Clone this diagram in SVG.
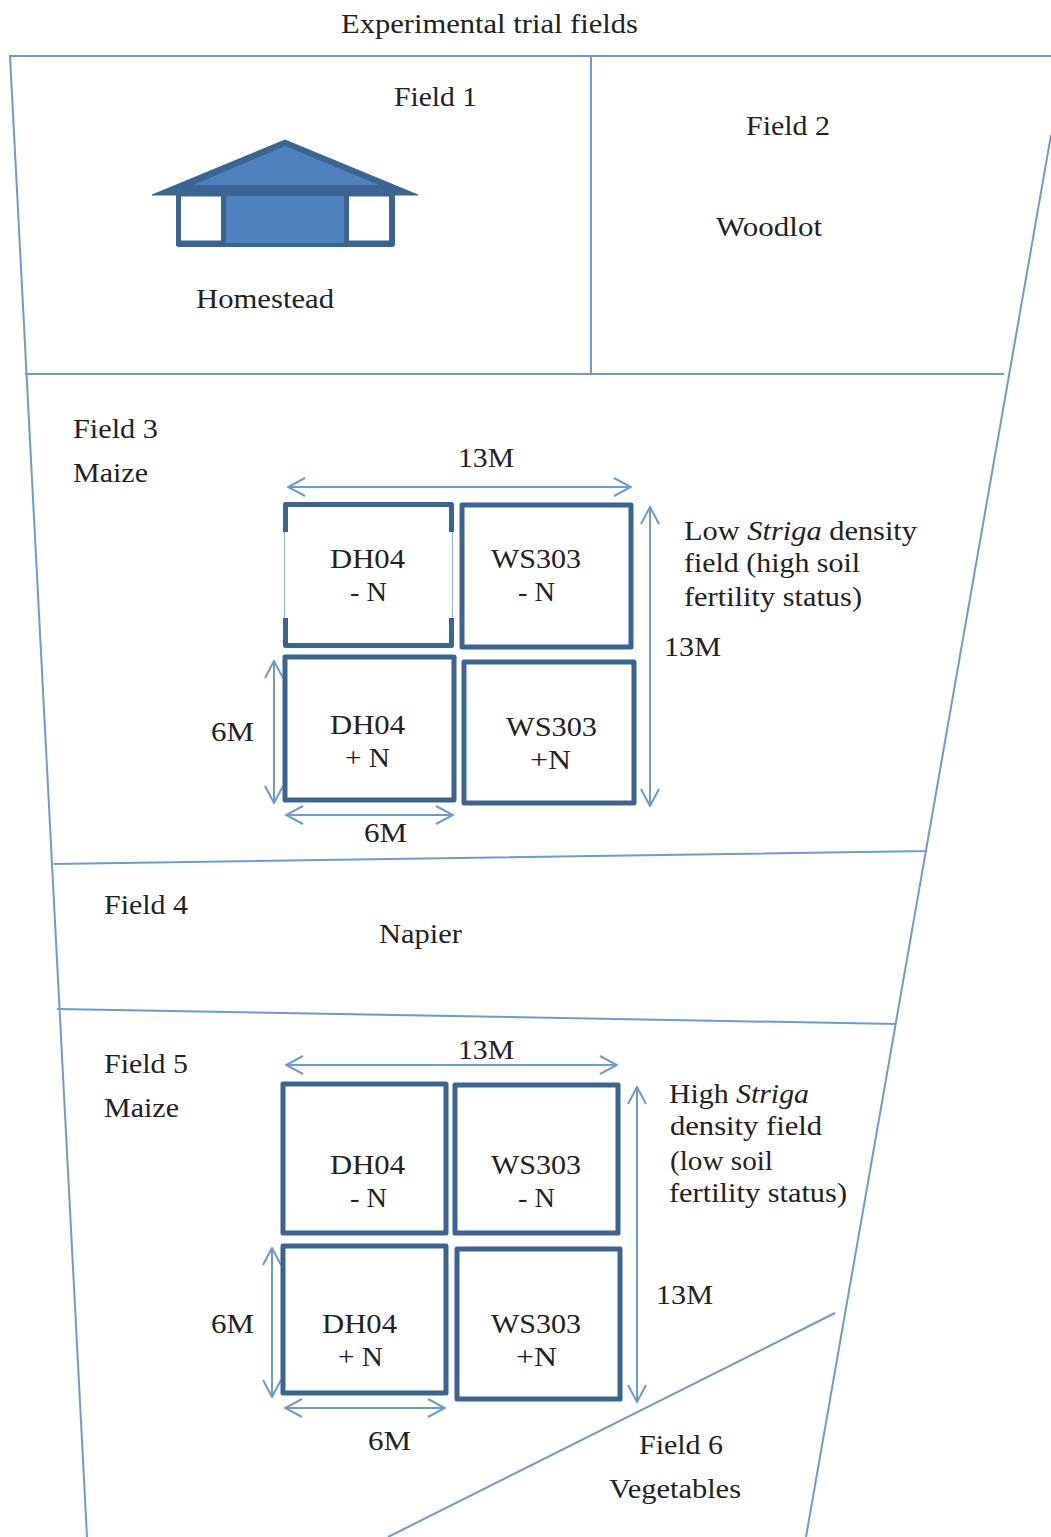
<svg xmlns="http://www.w3.org/2000/svg" width="1051" height="1537" viewBox="0 0 1051 1537">
<style>
text{font-family:"Liberation Serif","Times New Roman",serif;font-size:27px;fill:#222;transform:translateY(1px)}
.f{stroke:#6c9bd2;stroke-width:2;fill:none}
.d{stroke:#6c9bd2;stroke-width:2;fill:none;marker-start:url(#a);marker-end:url(#a)}
.b{fill:#fff;stroke:#3a6493;stroke-width:5;stroke-linejoin:round}
.w{fill:#fff;stroke:#3a6493;stroke-width:5}
</style>
<defs>
<marker id="a" viewBox="0 0 20 20" refX="19" refY="10" markerWidth="20" markerHeight="20" markerUnits="userSpaceOnUse" orient="auto-start-reverse"><path d="M2 1 L19 10 L2 19" fill="none" stroke="#6c9bd2" stroke-width="2"/></marker>
</defs>
<rect width="1051" height="1537" fill="#fff"/>
<g id="connectors">
<path class="f" d="M87 1537L10 56H1051M1051 135L806 1537M591 56V374M25 374H1004M54 864L927 851M57 1009L896 1024M835 1313L388 1537"/>
<path class="d" d="M288 487H631"/>
<path class="d" d="M650 507V806"/>
<path class="d" d="M274 661V803"/>
<path class="d" d="M286 815H453"/>
<path class="d" d="M286 1065H617"/>
<path class="d" d="M637 1087V1402"/>
<path class="d" d="M272 1248V1397"/>
<path class="d" d="M285 1408H445"/>
</g>
<g id="title"><text x="341" y="32" textLength="297" lengthAdjust="spacingAndGlyphs">Experimental trial fields</text></g>
<g id="field1"><text x="394" y="105" textLength="83" lengthAdjust="spacingAndGlyphs">Field 1</text><text x="196" y="307" textLength="138" lengthAdjust="spacingAndGlyphs">Homestead</text>
<g id="house">
<path d="M152 195L285 140L418 195Z" fill="#3a6493" stroke="#3a6493" stroke-width="1" stroke-linejoin="round"/>
<path d="M193 185L285 146L379 185Z" fill="#4f81bd"/>
<rect x="178" y="190" width="215" height="54" fill="#4f81bd"/>
<rect x="178" y="192" width="215" height="4" fill="#3a6493"/>
<rect x="178" y="192" width="215" height="53" rx="1" fill="none" stroke="#3a6493" stroke-width="4"/>
<rect class="w" x="178.500" y="194" width="45" height="49"/>
<rect class="w" x="346.500" y="194" width="45" height="49"/>
</g></g>
<g id="field2"><text x="746" y="134" textLength="84" lengthAdjust="spacingAndGlyphs">Field 2</text><text x="716" y="235" textLength="106" lengthAdjust="spacingAndGlyphs">Woodlot</text></g>
<g id="field3"><text x="73" y="437" textLength="85" lengthAdjust="spacingAndGlyphs">Field 3</text><text x="73" y="481" textLength="75" lengthAdjust="spacingAndGlyphs">Maize</text>
<text x="458" y="466" textLength="56" lengthAdjust="spacingAndGlyphs">13M</text>
<text x="664" y="655" textLength="57" lengthAdjust="spacingAndGlyphs">13M</text>
<text x="211" y="740" textLength="43" lengthAdjust="spacingAndGlyphs">6M</text>
<text x="364" y="841" textLength="43" lengthAdjust="spacingAndGlyphs">6M</text>
<text x="684" y="539" textLength="233" lengthAdjust="spacingAndGlyphs">Low <tspan font-style="italic">Striga</tspan> density</text>
<text x="684" y="571" textLength="176" lengthAdjust="spacingAndGlyphs">field (high soil</text>
<text x="684" y="605" textLength="178" lengthAdjust="spacingAndGlyphs">fertility status)</text></g>
<g id="plot-dh04-n-low"><rect class="b" x="285.500" y="504.500" width="166" height="141"/>
<rect x="282" y="532" width="7" height="86" fill="#fff"/><rect x="448" y="532" width="7" height="86" fill="#fff"/>
<path d="M284.500 532V618M452.500 532V618" stroke="#8fb2da" stroke-width="1" fill="none"/>
<text x="330" y="567" textLength="75" lengthAdjust="spacingAndGlyphs">DH04</text><text x="350" y="600" textLength="37" lengthAdjust="spacingAndGlyphs">- N</text></g>
<g id="plot-ws303-n-low"><rect class="b" x="462" y="505" width="169" height="142"/><text x="491" y="567" textLength="90" lengthAdjust="spacingAndGlyphs">WS303</text><text x="518" y="600" textLength="37" lengthAdjust="spacingAndGlyphs">- N</text></g>
<g id="plot-dh04-p-low"><rect class="b" x="285" y="657" width="169" height="143"/><text x="330" y="733" textLength="75" lengthAdjust="spacingAndGlyphs">DH04</text><text x="345" y="766" textLength="45" lengthAdjust="spacingAndGlyphs">+ N</text></g>
<g id="plot-ws303-p-low"><rect class="b" x="464" y="662" width="170" height="141"/><text x="506" y="735" textLength="91" lengthAdjust="spacingAndGlyphs">WS303</text><text x="530" y="768" textLength="41" lengthAdjust="spacingAndGlyphs">+N</text></g>
<g id="field4"><text x="104" y="913" textLength="84" lengthAdjust="spacingAndGlyphs">Field 4</text><text x="379" y="942" textLength="83" lengthAdjust="spacingAndGlyphs">Napier</text></g>
<g id="field5"><text x="104" y="1072" textLength="84" lengthAdjust="spacingAndGlyphs">Field 5</text><text x="104" y="1116" textLength="75" lengthAdjust="spacingAndGlyphs">Maize</text>
<text x="458" y="1058" textLength="56" lengthAdjust="spacingAndGlyphs">13M</text>
<text x="656" y="1303" textLength="57" lengthAdjust="spacingAndGlyphs">13M</text>
<text x="211" y="1332" textLength="43" lengthAdjust="spacingAndGlyphs">6M</text>
<text x="368" y="1449" textLength="43" lengthAdjust="spacingAndGlyphs">6M</text>
<text x="669" y="1102" textLength="140" lengthAdjust="spacingAndGlyphs">High <tspan font-style="italic">Striga</tspan></text>
<text x="670" y="1134" textLength="152" lengthAdjust="spacingAndGlyphs">density field</text>
<text x="670" y="1169" textLength="103" lengthAdjust="spacingAndGlyphs">(low soil</text>
<text x="669" y="1201" textLength="178" lengthAdjust="spacingAndGlyphs">fertility status)</text></g>
<g id="plot-dh04-n-high"><rect class="b" x="283" y="1084" width="163" height="149"/><text x="330" y="1173" textLength="75" lengthAdjust="spacingAndGlyphs">DH04</text><text x="350" y="1206" textLength="37" lengthAdjust="spacingAndGlyphs">- N</text></g>
<g id="plot-ws303-n-high"><rect class="b" x="455" y="1085" width="163" height="148"/><text x="491" y="1173" textLength="90" lengthAdjust="spacingAndGlyphs">WS303</text><text x="518" y="1206" textLength="37" lengthAdjust="spacingAndGlyphs">- N</text></g>
<g id="plot-dh04-p-high"><rect class="b" x="283" y="1246" width="163" height="147"/><text x="322" y="1332" textLength="75" lengthAdjust="spacingAndGlyphs">DH04</text><text x="338" y="1365" textLength="45" lengthAdjust="spacingAndGlyphs">+ N</text></g>
<g id="plot-ws303-p-high"><rect class="b" x="457" y="1249" width="163" height="150"/><text x="491" y="1332" textLength="90" lengthAdjust="spacingAndGlyphs">WS303</text><text x="516" y="1365" textLength="41" lengthAdjust="spacingAndGlyphs">+N</text></g>
<g id="field6"><text x="639" y="1453" textLength="84" lengthAdjust="spacingAndGlyphs">Field 6</text><text x="609" y="1497" textLength="132" lengthAdjust="spacingAndGlyphs">Vegetables</text></g>
</svg>
